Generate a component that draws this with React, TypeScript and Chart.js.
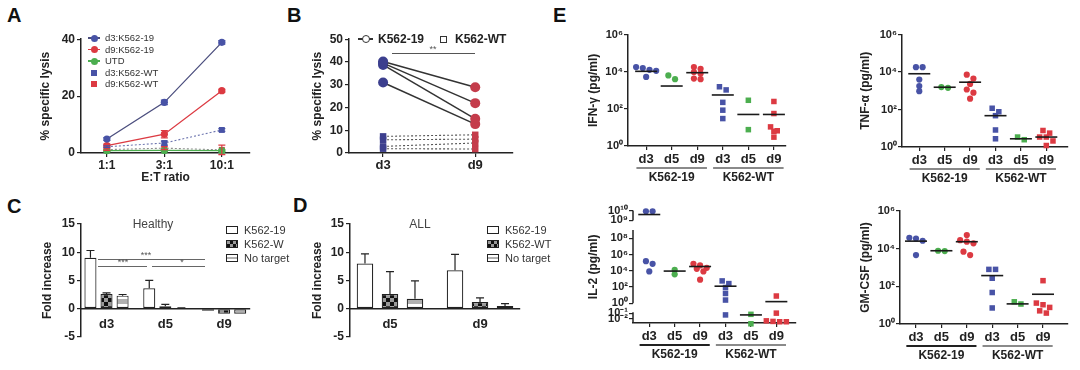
import React, { useEffect, useRef } from 'react';
import { Chart, registerables, LogarithmicScale } from 'chart.js';

Chart.register(...registerables);

const FONT = '"Liberation Sans", Arial, Helvetica, sans-serif';
const INK = '#222222';
const BLUE = '#4853a6';
const RED = '#dc3a42';
const GREEN = '#4cae4f';
const NAVY = '#3c3f8e';
const BRICK = '#c43c4b';
const LINE_BLUE = '#4b4e7e';

// ---------------- Panel A ----------------
const ratioLabels = ['1:1', '3:1', '10:1'];
const aSeriesNames = ['d3:K562-19', 'd9:K562-19', 'UTD', 'd3:K562-WT', 'd9:K562-WT'];
const aD3K19 = [4.9, 17.8, 38.9];
const aD3K19Err = [0.5, 0.8, 0.6];
const aD9K19 = [2.6, 6.6, 21.9];
const aD9K19Err = [0.5, 1.3, 0.5];
const aUTD = [0.8, 0.9, 0.8];
const aUTDErr = [0.3, 0.3, 0.3];
const aD3WT = [2.2, 3.5, 8.1];
const aD3WTErr = [0.3, 0.7, 0.5];
const aD9WT = [1.2, 1.7, 1.1];
const aD9WTErr = [0.3, 0.5, 1.7];
const aYTicks = [0, 20, 40];

// ---------------- Panel B ----------------
const bDays = ['d3', 'd9'];
const bSeriesNames = ['K562-19', 'K562-WT'];
const bK19D3 = [40.2, 39.5, 38.7, 31];
const bK19D9 = [28.9, 21.9, 15, 12.7];
const bWTD3 = [7.3, 5.8, 2.9, 1.9];
const bWTD9 = [8, 6.1, 4.4, 1.75];
const bYTicks = [0, 10, 20, 30, 40, 50];

// ---------------- Panel C ----------------
const cDays = ['d3', 'd5', 'd9'];
const cSeriesNames = ['K562-19', 'K562-W', 'No target'];
const cK19 = [9.0, 3.6, -0.4];
const cK19Err = [1.3, 1.4, 0];
const cWT = [2.6, 0.4, -0.9];
const cWTErr = [0.2, 0.35, 0];
const cNo = [2.3, 0.1, -0.9];
const cNoErr = [0.2, 0.05, 0];
const foldTicks = [-5, 0, 5, 10, 15];

// ---------------- Panel D ----------------
const dDays = ['d5', 'd9'];
const dSeriesNames = ['K562-19', 'K562-WT', 'No target'];
const dK19 = [8.0, 6.8];
const dK19Err = [1.7, 2.8];
const dWT = [2.6, 1.15];
const dWTErr = [3.95, 0.75];
const dNo = [1.75, 0.47];
const dNoErr = [3.15, 0.4];

// ---------------- Panel E ----------------
const eDays = ['d3', 'd5', 'd9', 'd3', 'd5', 'd9'];
const eGroupNames = ['K562-19', 'K562-WT'];
const logTicks = [1, 100, 1e4, 1e6];
const logTickLabels = ['10⁰', '10²', '10⁴', '10⁶'];
const il2TickValues = [1e-2, 1e-1, 1, 1e2, 1e4, 1e6, 1e8, 1e9, 1e10];
const il2TickLabels = ['10⁻²', '10⁻¹', '10⁰', '10²', '10⁴', '10⁶', '10⁸', '10⁹', '10¹⁰'];

const ifnK19D3 = [17800, 15800, 12600, 11200, 5250];
const ifnK19D5 = [3980, 6310];
const ifnK19D9 = [17800, 14500, 9550, 7940, 3980, 4270];
const ifnWTD3 = [1550, 1050, 224, 85, 30];
const ifnWTD5 = [290, 7.6];
const ifnWTD9 = [250, 56, 10.7, 6.6, 6.2, 3];
const ifnMean = [10500, 1700, 8900, 560, 50, 50];

const tnfK19D3 = [18200, 18200, 3980, 1780, 955];
const tnfK19D5 = [1450, 1580];
const tnfK19D9 = [7240, 4470, 2340, 1170, 790, 380];
const tnfWTD3 = [117, 76, 47, 8.1, 2.75];
const tnfWTD5 = [2.45, 3.4];
const tnfWTD9 = [7.6, 5.5, 3.4, 3.4, 2.1, 1.2];
const tnfMean = [8130, 1550, 2880, 47, 2.75, 3.4];

const il2K19D3 = [8.5e9, 8.5e9, 148000, 71000, 8300];
const il2K19D5 = [3630, 13200];
const il2K19D9 = [71000, 44700, 22900, 17400, 8300, 794];
const il2WTD3 = [562, 263, 87, 16, 2.5, 0.05];
const il2WTD5 = [0.063, 0.0016];
const il2WTD9 = [7.8, 0.1, 0.005, 0.0035, 0.0035, 0.004];
const il2Mean = [4e9, 9100, 33100, 126, 0.05, 1.6];

const gmK19D3 = [38000, 34700, 26300, 4570];
const gmK19D5 = [7410, 7760];
const gmK19D9 = [52500, 28200, 23400, 19100, 6920, 4570];
const gmWTD3 = [794, 794, 269, 47, 7.1];
const gmWTD5 = [11.5, 15.1];
const gmWTD9 = [200, 12.9, 10.5, 7.6, 5, 3.8];
const gmMean = [25100, 7760, 23400, 372, 11.7, 38];

// ---------------- broken log axis for IL-2 ----------------
const IL2_SPAN = 114;
const il2AxisSegments = [[0, 11], [20, 94.3], [104, 114]];
function il2Pos(v: number): number {
  const l = Math.log10(v);
  if (l >= 9) return 104 + (l - 9) * 10;
  if (l >= -0.5) return 20 + l * 8.25;
  return 4 + (l + 2) * 6;
}

class BrokenLogScale extends (LogarithmicScale as any) {
  static id = 'brokenLog';
  static defaults = {};
  getPixelForValue(value: number) {
    return (this as any).getPixelForDecimal(il2Pos(value) / IL2_SPAN);
  }
}
Chart.register(BrokenLogScale as any);

// ---------------- helpers ----------------
const bold = (size: number) => ({ family: FONT, size, weight: 'bold' as const });
const fixW = (w: number) => (s: any) => { s.width = w; };
const fixH = (h: number) => (s: any) => { s.height = h; };
const setTicks = (vals: number[]) => (s: any) => { s.ticks = vals.map((v) => ({ value: v })); };
const gridOut = { drawOnChartArea: false, drawTicks: true, tickLength: 4, color: INK, lineWidth: 1.2, offset: false };
const gridNone = { drawOnChartArea: false, drawTicks: false, color: INK, lineWidth: 1.2, offset: false };
const borderSolid = { display: true, color: INK, width: 1.5 };

function common(top: number, right: number, bottom = 0, extraPlugins: any = {}) {
  return {
    responsive: false,
    maintainAspectRatio: false,
    animation: false,
    devicePixelRatio: 1,
    events: [],
    layout: { padding: { top, right, bottom, left: 0 } },
    plugins: { legend: { display: false }, tooltip: { enabled: false }, ...extraPlugins },
  };
}

const errorBarPlugin = {
  id: 'errorBars',
  afterDatasetsDraw(chart: any) {
    const ctx = chart.ctx;
    const ys = chart.scales.y;
    chart.data.datasets.forEach((ds: any, di: number) => {
      if (!ds.errors) return;
      const meta = chart.getDatasetMeta(di);
      meta.data.forEach((el: any, i: number) => {
        const e = ds.errors[i];
        if (!e) return;
        const raw = ds.data[i];
        const v = typeof raw === 'number' ? raw : raw.y;
        const yTop = ys.getPixelForValue(v + e);
        const yBot = ys.getPixelForValue(ds.errBoth ? v - e : v);
        const cap = ds.errCap ?? 4;
        ctx.save();
        ctx.strokeStyle = ds.errColor || INK;
        ctx.lineWidth = 1.2;
        ctx.beginPath();
        ctx.moveTo(el.x, yBot);
        ctx.lineTo(el.x, yTop);
        ctx.moveTo(el.x - cap, yTop);
        ctx.lineTo(el.x + cap, yTop);
        if (ds.errBoth) {
          ctx.moveTo(el.x - cap, yBot);
          ctx.lineTo(el.x + cap, yBot);
        }
        ctx.stroke();
        ctx.restore();
      });
    });
  },
};

const groupAxisPlugin = {
  id: 'groupAxis',
  afterDraw(chart: any, _args: any, opts: any) {
    if (!opts || !opts.groups) return;
    const xs = chart.scales.x;
    const ctx = chart.ctx;
    const b = chart.chartArea.bottom;
    ctx.save();
    opts.groups.forEach((g: any) => {
      const x1 = xs.getPixelForValue(g.from - 0.38);
      const x2 = xs.getPixelForValue(g.to + 0.38);
      ctx.strokeStyle = g.color;
      ctx.lineWidth = 1.8;
      ctx.beginPath();
      ctx.moveTo(x1, b + opts.lineGap);
      ctx.lineTo(x2, b + opts.lineGap);
      ctx.stroke();
      ctx.fillStyle = INK;
      ctx.font = `bold 12px ${FONT}`;
      ctx.textAlign = 'center';
      ctx.textBaseline = 'middle';
      ctx.fillText(g.label, (x1 + x2) / 2, b + opts.labelGap);
    });
    ctx.restore();
  },
};

const brokenAxisPlugin = {
  id: 'brokenAxis',
  afterDraw(chart: any, _args: any, opts: any) {
    if (!opts || !opts.segments) return;
    const ys = chart.scales.y;
    const x = chart.chartArea.left;
    const ctx = chart.ctx;
    ctx.save();
    ctx.strokeStyle = INK;
    ctx.lineWidth = 1.5;
    opts.segments.forEach((seg: number[]) => {
      ctx.beginPath();
      ctx.moveTo(x, ys.getPixelForDecimal(seg[0] / IL2_SPAN));
      ctx.lineTo(x, ys.getPixelForDecimal(seg[1] / IL2_SPAN));
      ctx.stroke();
    });
    ctx.restore();
  },
};

function swarmOffsets(vals: number[], toPx: (v: number) => number, unitPx: number): number[] {
  const d = 7;
  const rowTol = 4.5;
  const order = vals.map((_, i) => i).sort((a, b) => toPx(vals[b]) - toPx(vals[a]));
  const offs = new Array(vals.length).fill(0);
  let i = 0;
  while (i < order.length) {
    const row = [order[i]];
    const y0 = toPx(vals[order[i]]);
    let j = i + 1;
    while (j < order.length && y0 - toPx(vals[order[j]]) < rowTol) {
      row.push(order[j]);
      j++;
    }
    row.forEach((idx, k) => {
      offs[idx] = ((k - (row.length - 1) / 2) * d) / unitPx;
    });
    i = j;
  }
  return offs;
}

let checkerPat: any = null;
let stripePat: any = null;
function checker() {
  if (checkerPat) return checkerPat;
  const c = document.createElement('canvas');
  c.width = 8;
  c.height = 8;
  const g = c.getContext('2d')!;
  g.fillStyle = '#111';
  g.fillRect(0, 0, 8, 8);
  g.fillStyle = '#9a9a9a';
  g.fillRect(4, 0, 4, 4);
  g.fillRect(0, 4, 4, 4);
  checkerPat = g.createPattern(c, 'repeat');
  return checkerPat;
}
function stripe() {
  if (stripePat) return stripePat;
  const c = document.createElement('canvas');
  c.width = 8;
  c.height = 10;
  const g = c.getContext('2d')!;
  g.fillStyle = '#ffffff';
  g.fillRect(0, 0, 8, 10);
  g.fillStyle = '#b0b0b0';
  g.fillRect(0, 5, 8, 5);
  stripePat = g.createPattern(c, 'repeat');
  return stripePat;
}

// ---------------- chart factories ----------------
function makeA() {
  const mk = (vals: number[], errs: number[], color: string, lineColor: string, style: string, dash: number[], r: number, w: number) => ({
    data: vals.map((v, i) => ({ x: i, y: v })),
    borderColor: lineColor,
    borderWidth: w,
    borderDash: dash,
    pointStyle: style,
    pointRadius: r,
    pointBackgroundColor: color,
    pointBorderColor: color,
    pointBorderWidth: 0,
    errors: errs,
    errBoth: true,
    errColor: color,
    errCap: 3.5,
    clip: false,
    tension: 0,
  });
  return {
    type: 'line',
    data: {
      datasets: [
        mk(aD3K19, aD3K19Err, BLUE, LINE_BLUE, 'circle', [], 3.6, 1.3),
        mk(aD9K19, aD9K19Err, RED, RED, 'circle', [], 3.6, 1.3),
        mk(aUTD, aUTDErr, GREEN, GREEN, 'circle', [], 3.6, 1.3),
        mk(aD3WT, aD3WTErr, BLUE, '#6f77b0', 'rect', [2, 2], 4.2, 1.1),
        mk(aD9WT, aD9WTErr, RED, '#8f8f8f', 'rect', [2, 2], 4.2, 1.1),
      ],
    },
    options: {
      ...common(9, 6),
      scales: {
        x: {
          type: 'linear', min: -0.45, max: 2.49,
          afterBuildTicks: setTicks([0, 1, 2]),
          afterFit: fixH(32),
          ticks: { callback: (_v: any, i: number) => ratioLabels[i], font: bold(12), color: INK, padding: 1, maxRotation: 0, autoSkip: false },
          grid: gridOut, border: borderSolid,
          title: { display: true, text: 'E:T ratio', font: bold(12), color: INK, padding: 0 },
        },
        y: {
          type: 'linear', min: 0, max: 40,
          afterBuildTicks: setTicks(aYTicks),
          afterFit: fixW(43),
          ticks: { font: bold(12), color: INK, padding: 2, callback: (v: any) => String(v) },
          grid: gridOut, border: borderSolid,
          title: { display: true, text: '% specific lysis', font: bold(12), color: INK, padding: 0 },
        },
      },
    },
    plugins: [errorBarPlugin],
  };
}

function makeB() {
  const datasets: any[] = [];
  bK19D3.forEach((v, i) => {
    datasets.push({
      data: [{ x: 0, y: v }, { x: 1, y: bK19D9[i] }],
      borderColor: '#333333', borderWidth: 1.5,
      pointStyle: 'circle', pointRadius: 5,
      pointBackgroundColor: [NAVY, BRICK], pointBorderColor: [NAVY, BRICK], pointBorderWidth: 0,
      clip: false,
    });
  });
  bWTD3.forEach((v, i) => {
    datasets.push({
      data: [{ x: 0, y: v }, { x: 1, y: bWTD9[i] }],
      borderColor: '#555555', borderWidth: 1.1, borderDash: [2, 2],
      pointStyle: 'rect', pointRadius: 4.6,
      pointBackgroundColor: [NAVY, BRICK], pointBorderColor: [NAVY, BRICK], pointBorderWidth: 0,
      clip: false,
    });
  });
  return {
    type: 'line',
    data: { datasets },
    options: {
      ...common(9, 5),
      scales: {
        x: {
          type: 'linear', min: -0.37, max: 1.41,
          afterBuildTicks: setTicks([0, 1]),
          afterFit: fixH(32),
          ticks: { callback: (_v: any, i: number) => bDays[i], font: bold(13), color: INK, padding: 1, maxRotation: 0, autoSkip: false },
          grid: gridOut, border: borderSolid,
        },
        y: {
          type: 'linear', min: 0, max: 50,
          afterBuildTicks: setTicks(bYTicks),
          afterFit: fixW(39),
          ticks: { font: bold(12), color: INK, padding: 2, callback: (v: any) => String(v) },
          grid: gridOut, border: borderSolid,
          title: { display: true, text: '% specific lysis', font: bold(12), color: INK, padding: 0 },
        },
      },
    },
  };
}

function makeBars(days: number, series: { vals: number[]; errs: number[]; bg: any }[], xMin: number, xMax: number, catPct: number, barPct: number, yW: number, labels: string[], right: number) {
  const ticks = Array.from({ length: days }, (_, i) => i);
  return {
    type: 'bar',
    data: {
      datasets: series.map((s) => ({
        data: s.vals.map((v, i) => ({ x: i, y: v })),
        backgroundColor: s.bg,
        borderColor: INK,
        borderWidth: 1.2,
        borderSkipped: false,
        categoryPercentage: catPct,
        barPercentage: barPct,
        errors: s.errs,
        errBoth: false,
        errColor: INK,
        errCap: 4,
      })),
    },
    options: {
      ...common(10, right, 7),
      scales: {
        x: {
          type: 'linear', min: xMin, max: xMax, offset: false,
          position: { y: 0 },
          afterBuildTicks: setTicks(ticks),
          ticks: { callback: (_v: any, i: number) => labels[i], font: bold(13), color: INK, padding: 8, maxRotation: 0, autoSkip: false },
          grid: gridNone, border: borderSolid,
        },
        y: {
          type: 'linear', min: -5, max: 15,
          afterBuildTicks: setTicks(foldTicks),
          afterFit: fixW(yW),
          ticks: { font: bold(12), color: INK, padding: 2, callback: (v: any) => String(v) },
          grid: gridOut, border: borderSolid,
          title: { display: true, text: 'Fold increase', font: bold(12), color: INK, padding: 0 },
        },
      },
    },
    plugins: [errorBarPlugin],
  };
}

function makeC() {
  return makeBars(3, [
    { vals: cK19, errs: cK19Err, bg: '#ffffff' },
    { vals: cWT, errs: cWTErr, bg: checker() },
    { vals: cNo, errs: cNoErr, bg: stripe() },
  ], -0.434, 2.44, 0.82, 0.75, 41, cDays, 6);
}

function makeD() {
  return makeBars(2, [
    { vals: dK19, errs: dK19Err, bg: '#ffffff' },
    { vals: dWT, errs: dWTErr, bg: checker() },
    { vals: dNo, errs: dNoErr, bg: stripe() },
  ], -0.444, 1.444, 0.833, 0.66, 40, dDays, 6);
}

interface EOpts {
  groups: number[][];
  means: number[];
  title: string;
  yW: number;
  xMin: number;
  xMax: number;
  top: number;
  right: number;
  xH: number;
  groupColors: string[];
  il2?: boolean;
}

function makeE(o: EOpts) {
  return () => {
    const toPx = o.il2 ? il2Pos : (v: number) => Math.log10(v) * 19;
    const colors = [BLUE, GREEN, RED, BLUE, GREEN, RED];
    const datasets: any[] = [
      {
        data: o.means.map((m, g) => ({ x: g, y: m })),
        pointStyle: 'line', pointRadius: 11,
        pointBorderColor: '#1a1a1a', pointBackgroundColor: '#1a1a1a', pointBorderWidth: 1.6,
        showLine: false, clip: false,
      },
    ];
    o.groups.forEach((vals, g) => {
      const offs = swarmOffsets(vals, toPx, 26.7);
      datasets.push({
        data: vals.map((v, i) => ({ x: g + offs[i], y: v })),
        pointStyle: g < 3 ? 'circle' : 'rect',
        pointRadius: g < 3 ? 3.1 : 3.9,
        pointBackgroundColor: colors[g],
        pointBorderColor: colors[g],
        pointBorderWidth: 0,
        showLine: false,
        clip: false,
      });
    });
    const yScale: any = o.il2
      ? {
          type: 'brokenLog', min: Math.pow(10, -2.67), max: 1e10,
          afterBuildTicks: setTicks(il2TickValues),
          ticks: { callback: (_v: any, i: number) => il2TickLabels[i], autoSkip: false, font: bold(11), color: INK, padding: 1 },
          border: { display: false },
        }
      : {
          type: 'logarithmic', min: 1, max: 1e6,
          afterBuildTicks: setTicks(logTicks),
          ticks: { callback: (_v: any, i: number) => logTickLabels[i], autoSkip: false, font: bold(11), color: INK, padding: 1 },
          border: borderSolid,
        };
    yScale.afterFit = fixW(o.yW);
    yScale.grid = gridOut;
    yScale.title = { display: true, text: o.title, font: bold(12), color: INK, padding: 0 };
    return {
      type: 'scatter',
      data: { datasets },
      options: {
        ...common(o.top, o.right, 0, {
          groupAxis: {
            lineGap: 22,
            labelGap: 32,
            groups: [
              { from: 0, to: 2, label: eGroupNames[0], color: o.groupColors[0] },
              { from: 3, to: 5, label: eGroupNames[1], color: o.groupColors[1] },
            ],
          },
          brokenAxis: o.il2 ? { segments: il2AxisSegments } : {},
        }),
        scales: {
          x: {
            type: 'linear', min: o.xMin, max: o.xMax,
            afterBuildTicks: setTicks([0, 1, 2, 3, 4, 5]),
            afterFit: fixH(o.xH),
            ticks: { callback: (_v: any, i: number) => eDays[i], font: bold(13), color: INK, padding: 2, maxRotation: 0, autoSkip: false },
            grid: gridOut, border: borderSolid,
          },
          y: yScale,
        },
      },
      plugins: [groupAxisPlugin, brokenAxisPlugin],
    };
  };
}

const makeIFN = makeE({
  groups: [ifnK19D3, ifnK19D5, ifnK19D9, ifnWTD3, ifnWTD5, ifnWTD9], means: ifnMean,
  title: 'IFN-γ (pg/ml)', yW: 42, xMin: -0.71, xMax: 5.45, top: 10, right: 5, xH: 39,
  groupColors: ['#8a8a8a', '#8a8a8a'],
});
const makeTNF = makeE({
  groups: [tnfK19D3, tnfK19D5, tnfK19D9, tnfWTD3, tnfWTD5, tnfWTD9], means: tnfMean,
  title: 'TNF-α (pg/ml)', yW: 44, xMin: -0.68, xMax: 5.83, top: 11, right: 5, xH: 39,
  groupColors: ['#8a8a8a', '#8a8a8a'],
});
const makeIL2 = makeE({
  groups: [il2K19D3, il2K19D5, il2K19D9, il2WTD3, il2WTD5, il2WTD9], means: il2Mean,
  title: 'IL-2 (pg/ml)', yW: 47, xMin: -0.64, xMax: 5.75, top: 11, right: 5, xH: 42,
  groupColors: ['#222222', '#8a8a8a'], il2: true,
});
const makeGM = makeE({
  groups: [gmK19D3, gmK19D5, gmK19D9, gmWTD3, gmWTD5, gmWTD9], means: gmMean,
  title: 'GM-CSF (pg/ml)', yW: 42, xMin: -0.63, xMax: 5.96, top: 13, right: 2, xH: 41,
  groupColors: ['#222222', '#8a8a8a'],
});

// ---------------- React parts ----------------
function ChartBox({ x, y, w, h, make }: { x: number; y: number; w: number; h: number; make: () => any }) {
  const ref = useRef<HTMLCanvasElement | null>(null);
  useEffect(() => {
    if (!ref.current) return;
    const chart = new Chart(ref.current, make());
    return () => chart.destroy();
  }, [make]);
  return <canvas ref={ref} width={w} height={h} style={{ position: 'absolute', left: x, top: y, width: w, height: h }} />;
}

function Txt({ x, y, size, bold: b, color = INK, align = 'left', children }: { x: number; y: number; size: number; bold?: boolean; color?: string; align?: 'left' | 'center'; children: React.ReactNode }) {
  const style: React.CSSProperties = {
    position: 'absolute', top: y - size / 2, left: x, fontSize: size, lineHeight: `${size}px`,
    fontWeight: b ? 700 : 400, color, whiteSpace: 'nowrap', fontFamily: FONT,
  };
  if (align === 'center') style.transform = 'translateX(-50%)';
  return <div style={style}>{children}</div>;
}

function Rect({ x, y, w, h, style }: { x: number; y: number; w: number; h: number; style?: React.CSSProperties }) {
  return <div style={{ position: 'absolute', left: x, top: y, width: w, height: h, boxSizing: 'border-box', ...style }} />;
}

const CHECKER_CSS = 'repeating-conic-gradient(#111 0% 25%, #9a9a9a 0% 50%) 0 0 / 6px 6px';
const STRIPE_CSS = 'linear-gradient(#ffffff 0 30%, #b0b0b0 30% 70%, #ffffff 70%)';

function BarLegend({ x, names }: { x: number; names: string[] }) {
  const bgs = ['#ffffff', CHECKER_CSS, STRIPE_CSS];
  return (
    <>
      {names.map((n, i) => {
        const cy = 230 + i * 14;
        return (
          <React.Fragment key={n}>
            <Rect x={x} y={cy - 4} w={12} h={8} style={{ border: '1px solid #222', background: bgs[i] }} />
            <Txt x={x + 18} y={cy} size={11} color="#333">{n}</Txt>
          </React.Fragment>
        );
      })}
    </>
  );
}

export default function App() {
  const aColors = [BLUE, RED, GREEN, BLUE, RED];
  const aLineColors = [LINE_BLUE, RED, GREEN];
  return (
    <div style={{ position: 'absolute', left: 0, top: 0, width: 1080, height: 370, background: '#ffffff', overflow: 'hidden', fontFamily: FONT }}>
      <ChartBox x={38} y={30} w={218} h={155} make={makeA} />
      <ChartBox x={310} y={30} w={208} h={155} make={makeB} />
      <ChartBox x={40} y={214} w={216} h={132} make={makeC} />
      <ChartBox x={310} y={214} w={216} h={132} make={makeD} />
      <ChartBox x={586} y={22} w={212} h={163} make={makeIFN} />
      <ChartBox x={858} y={22} w={222} h={164} make={makeTNF} />
      <ChartBox x={586} y={198} w={222} h={167} make={makeIL2} />
      <ChartBox x={858} y={198} w={222} h={167} make={makeGM} />

      {/* panel letters */}
      <Txt x={7} y={15} size={20} bold color="#111">A</Txt>
      <Txt x={287} y={15} size={20} bold color="#111">B</Txt>
      <Txt x={7} y={206} size={20} bold color="#111">C</Txt>
      <Txt x={293} y={205} size={20} bold color="#111">D</Txt>
      <Txt x={553} y={15} size={20} bold color="#111">E</Txt>

      {/* legend A */}
      {aSeriesNames.map((n, i) => {
        const cy = 38 + i * 11.5;
        return (
          <React.Fragment key={n}>
            {i < 3 && <Rect x={88} y={cy - 0.6} w={12} h={1.3} style={{ background: aLineColors[i] }} />}
            <Rect x={i < 3 ? 90.5 : 91} y={cy - (i < 3 ? 3.5 : 3)} w={i < 3 ? 7 : 6} h={i < 3 ? 7 : 6} style={{ background: aColors[i], borderRadius: i < 3 ? '50%' : 0 }} />
            <Txt x={105} y={cy} size={9.5} color="#333">{n}</Txt>
          </React.Fragment>
        );
      })}

      {/* legend B */}
      <Rect x={358} y={38.3} w={15} h={1.5} style={{ background: '#333' }} />
      <Rect x={361.5} y={35} w={8} h={8} style={{ border: '1.5px solid #333', borderRadius: '50%', background: '#fff' }} />
      <Txt x={378} y={39} size={12} bold>{bSeriesNames[0]}</Txt>
      <Rect x={440} y={35.5} w={7} h={7} style={{ border: '1.3px solid #333', background: '#fff' }} />
      <Txt x={455} y={39} size={12} bold>{bSeriesNames[1]}</Txt>
      {/* significance B */}
      <Rect x={392} y={52.5} w={83} h={1.3} style={{ background: '#555' }} />
      <Txt x={433} y={49} size={9} color="#555" align="center">**</Txt>

      {/* panel C annotations */}
      <Txt x={153} y={224} size={12} color="#444" align="center">Healthy</Txt>
      <BarLegend x={226} names={cSeriesNames} />
      <Rect x={98} y={258.5} w={107} h={1.4} style={{ background: '#666' }} />
      <Rect x={98} y={265.5} w={49} h={1.4} style={{ background: '#666' }} />
      <Rect x={152} y={265.5} w={53} h={1.4} style={{ background: '#666' }} />
      <Txt x={146} y={255} size={9} color="#555" align="center">***</Txt>
      <Txt x={123} y={262} size={9} color="#555" align="center">***</Txt>
      <Txt x={182} y={262} size={9} color="#555" align="center">*</Txt>

      {/* panel D annotations */}
      <Txt x={420} y={224} size={12} color="#444" align="center">ALL</Txt>
      <BarLegend x={487} names={dSeriesNames} />
    </div>
  );
}
